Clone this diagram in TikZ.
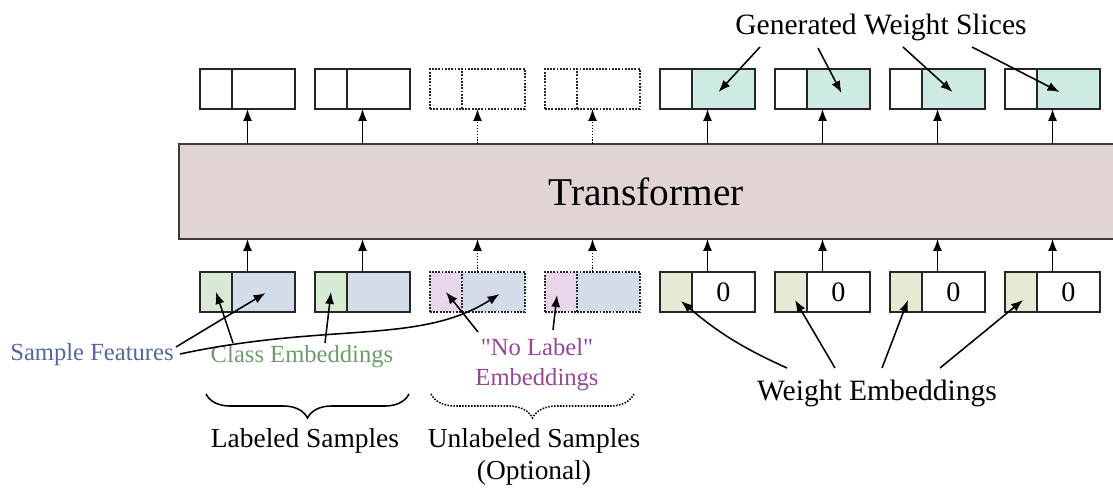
\documentclass[tikz,border=0pt]{standalone}
\usepackage{fontspec}
\setmainfont{Liberation Serif}
\usetikzlibrary{arrows.meta, calc, positioning, decorations.pathreplacing}

\definecolor{tffill}{RGB}{227,212,212}
\definecolor{tfline}{RGB}{60,60,60}
\definecolor{clsfill}{RGB}{214,234,212}
\definecolor{featfill}{RGB}{212,220,234}
\definecolor{nolblfill}{RGB}{234,214,234}
\definecolor{wembfill}{RGB}{231,233,213}
\definecolor{slicefill}{RGB}{205,234,229}
\definecolor{feattext}{RGB}{84,104,150}
\definecolor{clstext}{RGB}{110,155,110}
\definecolor{nolbltext}{RGB}{150,70,150}

\begin{document}
\begin{tikzpicture}[x=0.025cm, y=-0.025cm, node distance=0pt,
      part/.style = {draw=black!85, line width=1.3pt, minimum height=1cm,
                     inner sep=0pt, outer sep=0pt},
      lpart/.style = {part, minimum width=0.8cm},
      rpart/.style = {part, minimum width=1.575cm, font=\fontsize{20}{24}\selectfont},
      arr/.style = {-{Latex[length=8.5pt,width=6.5pt]}, line width=1.1pt},
      lbl/.style = {font=\fontsize{17.5}{21.3}\selectfont, inner sep=0pt, align=center},
      capt/.style = {font=\fontsize{19.5}{22.7}\selectfont, inner sep=0pt, align=center},
      big/.style = {font=\fontsize{21}{25}\selectfont, inner sep=0pt} ]

\useasboundingbox (0,0) rectangle (1113,492);

% transformer block, open on the right
\node (tf) [fill=tffill, minimum width=23.35cm, minimum height=2.375cm, anchor=west,
            inner sep=0pt, outer sep=0pt, font=\fontsize{28}{32}\selectfont]
      at (179,191.5) {Transformer};
\draw[tfline, line width=1.4pt] (tf.north east) -- (tf.north west)
      -- (tf.south west) -- (tf.south east);

% tokens in and out
\foreach \i/\lf/\rf/\of/\ls/\z in {1/clsfill/featfill/white/solid/{},
      2/clsfill/featfill/white/solid/{},
      3/nolblfill/featfill/white/densely dotted/{},
      4/nolblfill/featfill/white/densely dotted/{},
      5/wembfill/white/slicefill/solid/0,
      6/wembfill/white/slicefill/solid/0,
      7/wembfill/white/slicefill/solid/0,
      8/wembfill/white/slicefill/solid/0}
{
  \node (l\i)  [lpart, \ls, fill=\lf] at ({216+115*(\i-1)}, 292) {};
  \node (r\i)  [rpart, \ls, fill=\rf, right=of l\i] {\z};
  \node (ol\i) [lpart, \ls, fill=white] at ({216+115*(\i-1)}, 89) {};
  \node (or\i) [rpart, \ls, fill=\of, right=of ol\i] {};
  \coordinate (m\i) at ($(l\i.north west)!0.5!(r\i.north east)$);
  \coordinate (t\i) at ($(ol\i.south west)!0.5!(or\i.south east)$);
  \draw[arr, \ls] (m\i) -- (m\i |- tf.south);
  \draw[arr, \ls] (t\i |- tf.north) -- (t\i);
}

% labels
\node (sf) [lbl, text=feattext] at (92,355) {Sample Features};
\node (ce) [lbl, text=clstext] at (302,357) {Class Embeddings};
\node (nl) [lbl, text=nolbltext] at (537,365) {\textquotedbl No Label\textquotedbl\\Embeddings};
\node (we) [big] at (877,393) {Weight Embeddings};
\node (gs) [big] at (881,27) {Generated Weight Slices};
\node (ls) [capt] at (305,441) {Labeled Samples};
\node (us) [capt] at (534,457) {Unlabeled Samples\\(Optional)};

\draw[arr] ($(sf.east)+(2,-8)$) -- ($(r1.center)+(2,1)$);
\draw[arr] ($(sf.east)+(6,-1)$) .. controls (330,322) and (420,345) .. ($(r3.center)+(6,2)$);
\draw[arr] ($(ce.center)+(-69,-14)$) -- (l1.center);
\draw[arr] ($(ce.center)+(23,-14)$) -- (l2.center);
\draw[arr] ($(nl.center)+(-59,-33)$) -- (l3.center);
\draw[arr] ($(nl.center)+(16,-35)$) -- ($(l4.center)+(-4,3)$);

\draw[arr] ($(we.center)+(-90,-25)$) to[bend left=8] ($(l5.center)+(5,9)$);
\draw[arr] ($(we.center)+(-42,-25)$) -- ($(l6.center)+(4,8)$);
\draw[arr] ($(we.center)+(5,-25)$) -- ($(l7.center)+(2,8)$);
\draw[arr] ($(we.center)+(63,-25)$) -- ($(l8.center)+(2,8)$);

\draw[arr] ($(gs.center)+(-121,20)$) -- ($(or5.center)+(-5,3)$);
\draw[arr] ($(gs.center)+(-63,21)$) -- ($(or6.center)+(3,4)$);
\draw[arr] ($(gs.center)+(22,20)$) -- ($(or7.center)+(-1,3)$);
\draw[arr] ($(gs.center)+(91,20)$) -- ($(or8.center)+(-9,3)$);

% braces
\draw[line width=1.1pt, decorate, decoration={brace, mirror, amplitude=0.6cm}]
      (206,394) -- (409,394);
\draw[line width=1.1pt, densely dotted, decorate, decoration={brace, mirror, amplitude=0.6cm}]
      (431,394) -- (634,394);
\end{tikzpicture}
\end{document}
